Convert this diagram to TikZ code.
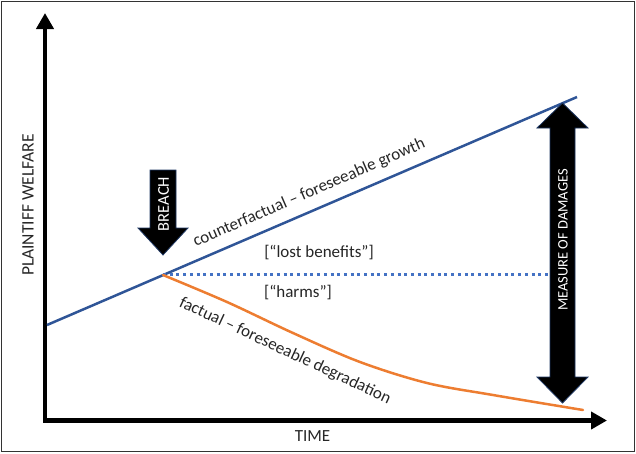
\documentclass[tikz,border=0pt]{standalone}
\usepackage{fontspec}
\setmainfont{Carlito}
\usetikzlibrary{arrows.meta}
\definecolor{cfblue}{HTML}{2F5597}
\definecolor{dotblue}{HTML}{4472C4}
\definecolor{factorange}{HTML}{ED7D31}
\definecolor{navyedge}{HTML}{1F3864}
\definecolor{txt}{HTML}{262626}
\tikzset{
  axisline/.style={line width=4.5pt, line cap=rect, -{Triangle[length=16pt,width=17pt]}},
  bigarrow/.style={fill=black, draw=navyedge, line width=0.8pt, line join=miter},
  lbl/.style={text=txt, font=\fontsize{17}{20}\selectfont, inner sep=0pt},
  arrowlbl/.style={text=white, inner sep=0pt, rotate=90},
}
\begin{document}
\begin{tikzpicture}[x=1pt,y=-1pt]
\useasboundingbox (0,0) rectangle (636,453);
\draw[draw=black!80, line width=1.5pt] (1.5,1.5) rectangle (634.5,451.5);
% axes
\coordinate (origin) at (45,420.5);
\coordinate (ytip) at (45,13);
\coordinate (xtip) at (607,420.5);
\draw[axisline] (origin) -- (ytip);
\draw[axisline] (origin) -- (xtip);
% curves
\coordinate (cfstart) at (47,325);
\coordinate (breachpt) at (163,275);
\coordinate (cfend) at (577,97);
\coordinate (dotstart) at (163,274);
\coordinate (dotend) at (548,274);
\coordinate (factend) at (583,410);
\draw[cfblue, line width=2.5pt] (cfstart) -- (cfend);
\draw[dotblue, line width=3pt, dash pattern=on 3pt off 3.7pt] (dotstart) -- (dotend);
\draw[factorange, line width=2.5pt, line cap=round] plot[smooth, tension=0.55] coordinates {(163,275) (227,302) (293,333) (360,362) (427,383) (493,395) (583,410)};
% breach arrow
\draw[bigarrow] (150,170) -- (176,170) -- (176,228) -- (188,228) -- (163,255) -- (138,228) -- (150,228) -- cycle;
\node[arrowlbl, font=\fontsize{16.5}{19}\selectfont] (breach) at (163.5,204) {BREACH};
% measure of damages arrow
\draw[bigarrow] (550,128) -- (537,128) -- (562.5,103) -- (588,128) -- (575,128) -- (575,377) -- (588,377) -- (562.5,403) -- (537,377) -- (550,377) -- cycle;
\node[arrowlbl, font=\fontsize{14.5}{17}\selectfont] (measure) at (563,240) {MEASURE OF DAMAGES};
% labels
\node[lbl, rotate=90, font=\fontsize{17.5}{20}\selectfont] (ylabel) at (28,205) {PLAINTIFF WELFARE};
\node[lbl] (xlabel) at (312.5,436) {TIME};
\node[lbl, anchor=base, rotate=23.4] (cflabel) at (311,197) {counterfactual – foreseeable growth};
\node[lbl] (lost) at (319,253) {[“lost benefits”]};
\node[lbl] (harms) at (298,293) {[“harms”]};
\node[lbl, rotate=-25] (factlabel) at (285,351) {factual – foreseeable degradation};
\end{tikzpicture}
\end{document}
